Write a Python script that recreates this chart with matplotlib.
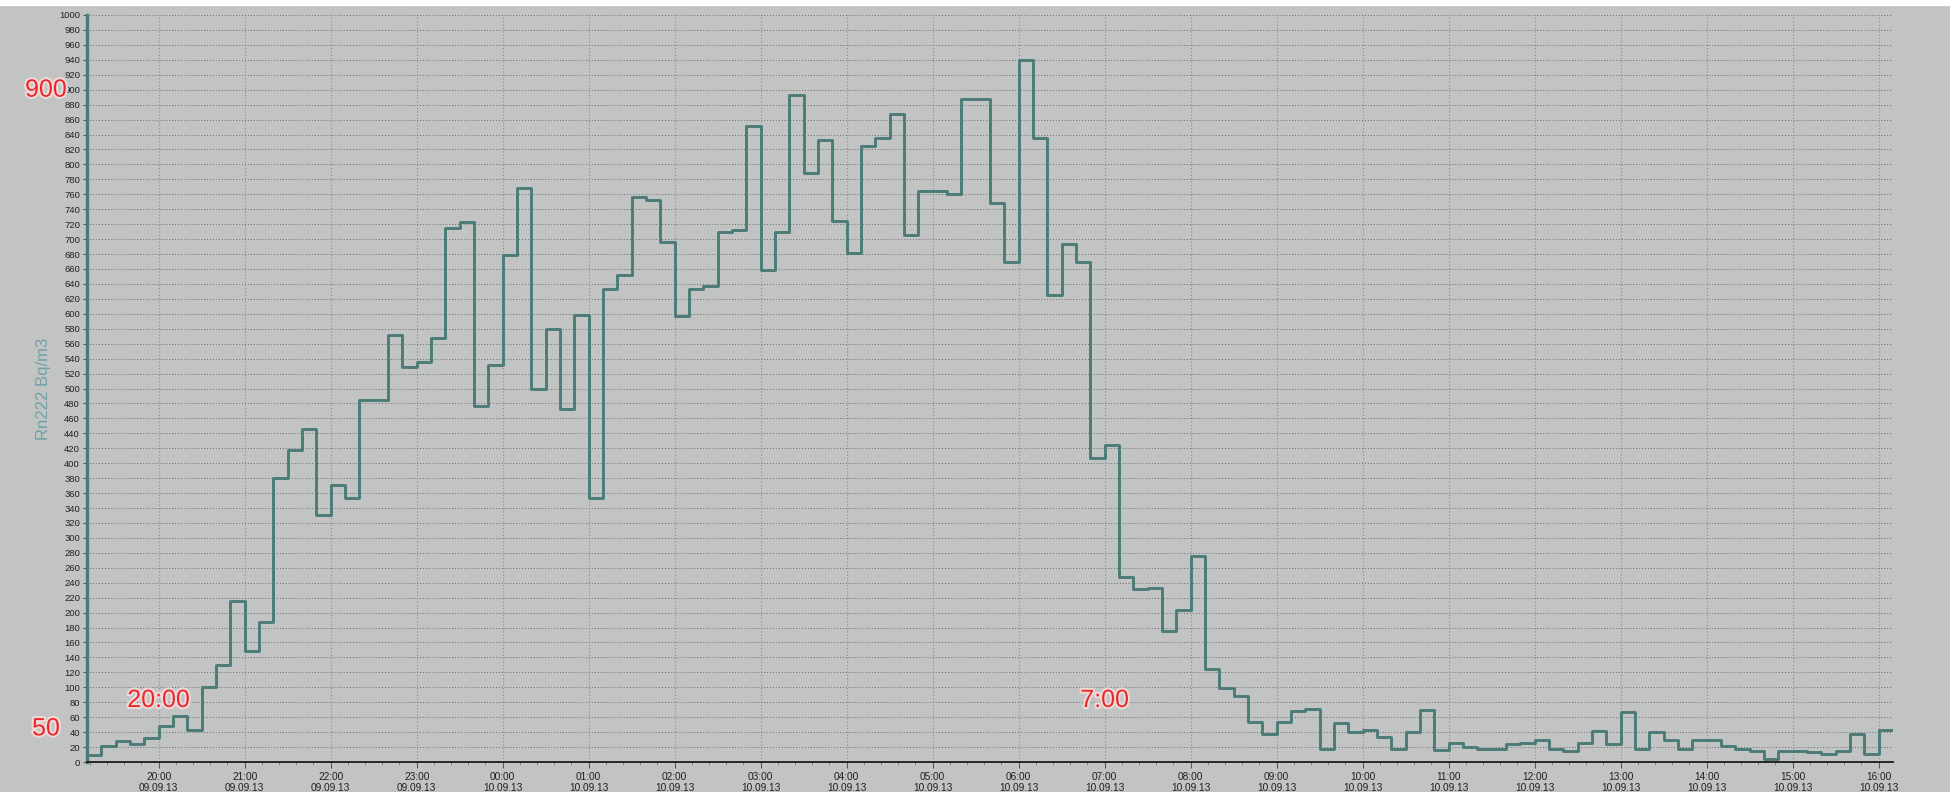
import numpy as np
import pandas as pd
import matplotlib
matplotlib.use("Agg")
import matplotlib.pyplot as plt
import matplotlib.dates as mdates
import matplotlib.patheffects as pe
from matplotlib.transforms import blended_transform_factory

plt.rcParams["font.family"] = ["Liberation Sans", "DejaVu Sans"]

# Rn222 activity, 10-minute steps from 09.09.13 19:10 to 10.09.13 16:10
start = "2013-09-09 19:10"
rn222 = [
    10, 22, 28, 24, 32, 48, 62, 43, 101, 130, 215, 149, 188,
    380, 418, 446, 330, 371, 353, 484, 484, 572, 529, 536, 568, 715, 723,
    476, 531, 679, 768, 500, 580, 472, 599,
    353, 633, 652, 756, 753, 696, 597, 633, 637, 709, 712, 852,
    658, 709, 893, 789, 832, 724, 681, 824, 836, 868, 705, 764,
    764, 761, 888, 888, 748, 670, 940, 836, 625, 693, 670, 407,
    424, 248, 231, 233, 176, 204, 276, 125, 99, 89, 54, 37,
    54, 68, 71, 18, 52, 40, 43, 34, 18, 40, 70, 16,
    26, 20, 18, 18, 24, 26,
    29, 18, 15, 26, 42, 24,
    67, 18, 40, 30, 18, 29,
    29, 21, 18, 15, 4, 15,
    15, 14, 11, 15, 38, 11,
    43,
]

# red notes written on the chart
notes = [("20:00", "2013-09-09 20:00", 83), ("7:00", "2013-09-10 07:00", 83)]
side_notes = [("900", 900), ("50", 45)]

times = pd.date_range(start, periods=len(rn222) + 1, freq="10min")
values = rn222 + [rn222[-1]]

bg = "#c2c4c3"
line_c = "#4b7b78"

fig = plt.figure(figsize=(19.5, 7.92), dpi=100, facecolor=bg)
ax = fig.add_axes([87 / 1950, 30 / 792, 1806 / 1950, 747 / 792])
ax.set_facecolor(bg)

ax.step(times, values, where="post", color=line_c, lw=2.1, zorder=3)

ax.set_xlim(times[0], times[-1])
ax.set_ylim(0, 1000)
ax.set_yticks(np.arange(0, 1001, 20))

ax.xaxis.set_major_locator(mdates.HourLocator())
ax.xaxis.set_minor_locator(mdates.MinuteLocator(byminute=[12, 24, 36, 48]))
ax.xaxis.set_major_formatter(mdates.DateFormatter("%H:%M\n%d.%m.%y"))

ax.grid(axis="y", color="#6a6a6a", ls=(0, (1, 2)), lw=0.7)
ax.grid(axis="x", which="major", color="#8c8c8c", ls=(0, (1, 2)), lw=0.8)

for s in ["top", "right"]:
    ax.spines[s].set_visible(False)
ax.spines["left"].set_color(line_c)
ax.spines["left"].set_linewidth(2.4)
ax.spines["bottom"].set_color("#1a1a1a")
ax.spines["bottom"].set_linewidth(1.3)

ax.tick_params(axis="y", labelsize=6.8, length=3, width=0.8, color="#555555",
               pad=2, labelcolor="#202020")
ax.tick_params(axis="x", which="major", labelsize=7.3, length=4, width=0.8,
               color="#555555", pad=3, labelcolor="#202020")
ax.tick_params(axis="x", which="minor", length=2.5, width=0.6, color="#777777")

ax.set_ylabel("Rn222 Bq/m3", color="#6fa0a8", fontsize=12)
ax.yaxis.set_label_coords(-0.02, 0.5)

glow = [pe.withStroke(linewidth=3, foreground="#eed8d8")]
for txt, t, v in notes:
    ax.text(pd.Timestamp(t), v, txt, color="#e8282b", fontsize=18,
            ha="center", va="center", zorder=5, path_effects=glow)

trans = blended_transform_factory(fig.transFigure, ax.transData)
for txt, v in side_notes:
    ax.text(46 / 1950, v, txt, transform=trans, color="#e8282b", fontsize=18,
            ha="center", va="center", clip_on=False, zorder=5,
            path_effects=glow)

# thin white strip along the top edge
fig.patches.append(plt.Rectangle((0, 787 / 792), 1, 5 / 792,
                                 transform=fig.transFigure, color="white",
                                 zorder=0))

fig.savefig("out.png", dpi=100, facecolor=bg)
